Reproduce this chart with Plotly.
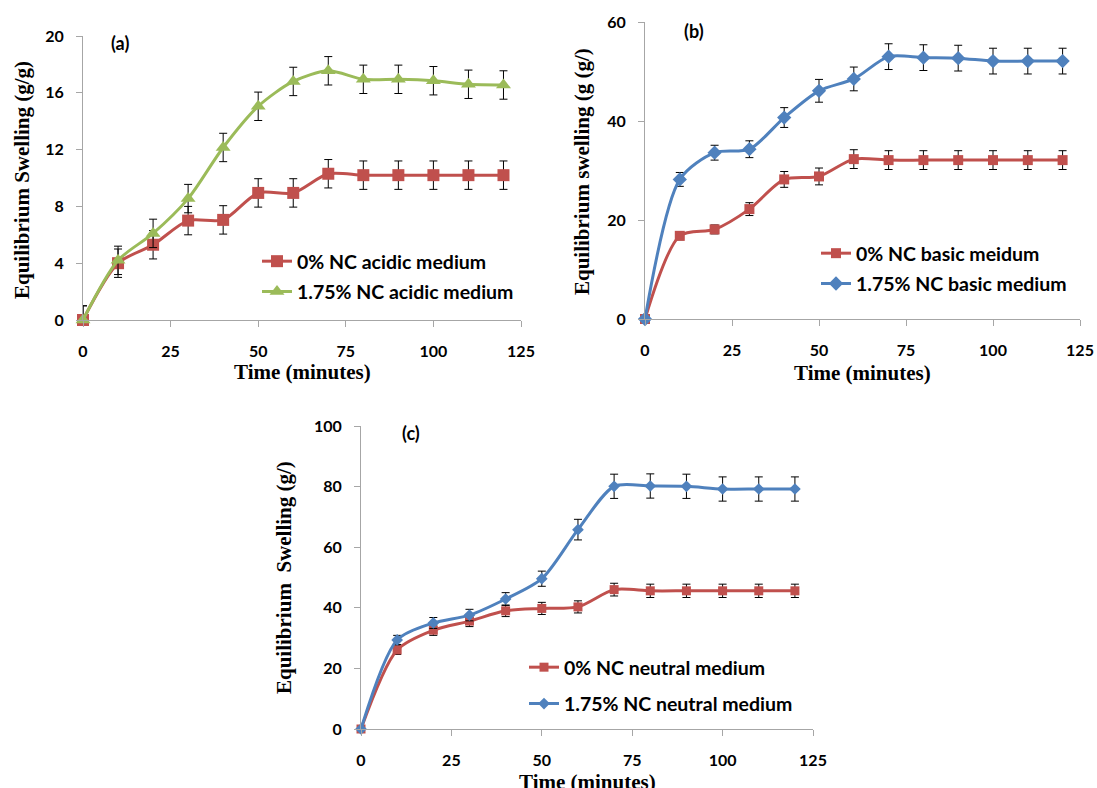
import plotly.graph_objects as go

# Time points (minutes)
time_min = [0, 10, 20, 30, 40, 50, 60, 70, 80, 90, 100, 110, 120]

# (a) acidic medium
acid_0 = [0, 4.0, 5.3, 7.0, 7.05, 8.95, 8.95, 10.3, 10.2, 10.2, 10.2, 10.2, 10.2]
acid_0_err = [1, 1, 1, 1, 1, 1, 1, 1, 1, 1, 1, 1, 1]
acid_175 = [0, 4.2, 6.1, 8.55, 12.15, 15.05, 16.8, 17.55, 16.95, 16.95, 16.85, 16.6, 16.55]
acid_175_err = [1, 1, 1, 1, 1, 1, 1, 1, 1, 1, 1, 1, 1]

# (b) basic medium
basic_0 = [0, 16.8, 18.1, 22.2, 28.2, 28.8, 32.3, 32.1, 32.1, 32.1, 32.1, 32.1, 32.1]
basic_0_err = [0, 0.8, 0.9, 1.3, 1.6, 1.7, 1.9, 1.9, 1.9, 1.9, 1.9, 1.9, 1.9]
basic_175 = [0, 28.2, 33.6, 34.3, 40.7, 46.1, 48.5, 53.0, 52.8, 52.7, 52.1, 52.1, 52.1]
basic_175_err = [0, 1.4, 1.5, 1.7, 2.0, 2.3, 2.4, 2.6, 2.6, 2.6, 2.6, 2.6, 2.6]

# (c) neutral medium
neutral_0 = [0, 26.1, 32.6, 35.6, 39.0, 39.8, 40.3, 46.0, 45.6, 45.6, 45.6, 45.6, 45.6]
neutral_0_err = [0, 1.5, 1.7, 1.8, 1.9, 2.0, 2.0, 2.1, 2.2, 2.2, 2.2, 2.2, 2.2]
neutral_175 = [0, 29.4, 35.0, 37.6, 42.9, 49.6, 65.8, 80.1, 80.2, 80.1, 79.2, 79.2, 79.2]
neutral_175_err = [0, 1.5, 1.8, 1.9, 2.1, 2.5, 3.4, 4.0, 4.0, 4.0, 4.0, 4.0, 4.0]

RED = "#C0504D"
GREEN = "#9BBB59"
BLUE = "#4F81BD"
AXIS_GREY = "#A6A6A6"
TICK_FONT = dict(family="Lato", size=16, color="black", weight="bold")
LEGEND_FONT = dict(family="Lato", size=19.5, color="black", weight="bold")
SERIF_FONT = dict(family="Liberation Serif", size=21, color="black", weight="bold")
PANEL_FONT = dict(family="Lato", size=18, color="black", weight="bold")

W, H = 1097, 788


def px_x(p):
    return p / W


def px_y(p):
    return 1 - p / H


def err(values):
    # upward bar only at t = 0, symmetric elsewhere
    return dict(type="data", array=values, arrayminus=[0] + values[1:],
                color="black", thickness=1, width=4, visible=True)


fig = go.Figure()


def add_series(x, y, e, name, color, symbol, size, xa, ya, legend, group):
    fig.add_trace(go.Scatter(
        x=x, y=y, name=name, mode="lines+markers",
        line=dict(color=color, width=3, shape="spline", smoothing=0.8),
        marker=dict(color=color, symbol=symbol, size=size),
        error_y=err(e), xaxis=xa, yaxis=ya, legend=legend,
        legendgroup=group, cliponaxis=False,
    ))


add_series(time_min, acid_0, acid_0_err, "0% NC acidic medium", RED, "square", 12, "x", "y", "legend", "a0")
add_series(time_min, acid_175, acid_175_err, "1.75% NC acidic medium", GREEN, "triangle-up", 13, "x", "y", "legend", "a1")
add_series(time_min, basic_0, basic_0_err, "0% NC basic meidum", RED, "square", 10, "x2", "y2", "legend2", "b0")
add_series(time_min, basic_175, basic_175_err, "1.75% NC basic medium", BLUE, "diamond", 11, "x2", "y2", "legend2", "b1")
add_series(time_min, neutral_0, neutral_0_err, "0% NC neutral medium", RED, "square", 9, "x3", "y3", "legend3", "c0")
add_series(time_min, neutral_175, neutral_175_err, "1.75% NC neutral medium", BLUE, "diamond", 9, "x3", "y3", "legend3", "c1")


def xaxis(left, right, anchor):
    return dict(domain=[px_x(left), px_x(right)], anchor=anchor, range=[0, 125], dtick=25, tick0=0,
                showline=True, linecolor=AXIS_GREY, linewidth=1,
                ticks="outside", ticklen=6, tickcolor=AXIS_GREY,
                showgrid=False, zeroline=False, tickfont=TICK_FONT,
                ticklabelstandoff=11, automargin=False)


def yaxis(bottom, top_px, anchor, top, step):
    return dict(domain=[px_y(bottom), px_y(top_px)], anchor=anchor, range=[0, top], dtick=step, tick0=0,
                showline=True, linecolor=AXIS_GREY, linewidth=1,
                ticks="outside", ticklen=6, tickcolor=AXIS_GREY,
                showgrid=False, zeroline=False, tickfont=TICK_FONT,
                ticklabelstandoff=9, automargin=False)


def legend_box(x, y, gap):
    return dict(x=px_x(x), y=px_y(y), font=LEGEND_FONT, bgcolor="rgba(0,0,0,0)",
                borderwidth=0, itemwidth=30, tracegroupgap=gap,
                xanchor="left", yanchor="top", traceorder="grouped")


annotations = []


def note(text, x, y, font, angle=0):
    annotations.append(dict(text=text, x=px_x(x), y=px_y(y), xref="paper", yref="paper",
                            showarrow=False, xanchor="center", yanchor="middle",
                            textangle=angle, font=font))


note("Equilibrium Swelling (g/g)", 22, 180, SERIF_FONT, -90)
note("Time (minutes)", 302, 372, SERIF_FONT)
note("(a)", 120, 43, PANEL_FONT)

note("Equilibrium swelling (g (g/)", 582, 172, SERIF_FONT, -90)
note("Time (minutes)", 862, 373, SERIF_FONT)
note("(b)", 694, 31, PANEL_FONT)

note("Equilibrium  Swelling (g/)", 284, 578, SERIF_FONT, -90)
note("Time (minutes)", 587, 782, SERIF_FONT)
note("(c)", 411, 433, PANEL_FONT)

fig.update_layout(
    width=W, height=H,
    margin=dict(l=0, r=0, t=0, b=0, pad=0, autoexpand=False),
    paper_bgcolor="white", plot_bgcolor="white",
    showlegend=True,
    font=dict(family="Lato"),
    xaxis=xaxis(83, 521, "y"),
    yaxis=yaxis(320, 36, "x", 20, 4),
    xaxis2=xaxis(645, 1080, "y2"),
    yaxis2=yaxis(319, 22, "x2", 60, 20),
    xaxis3=xaxis(361, 813, "y3"),
    yaxis3=yaxis(729, 426, "x3", 100, 20),
    legend=legend_box(257, 242, 2),
    legend2=legend_box(816, 234, 2),
    legend3=legend_box(524, 648, 8),
    annotations=annotations,
)

fig.write_html("out.html")
